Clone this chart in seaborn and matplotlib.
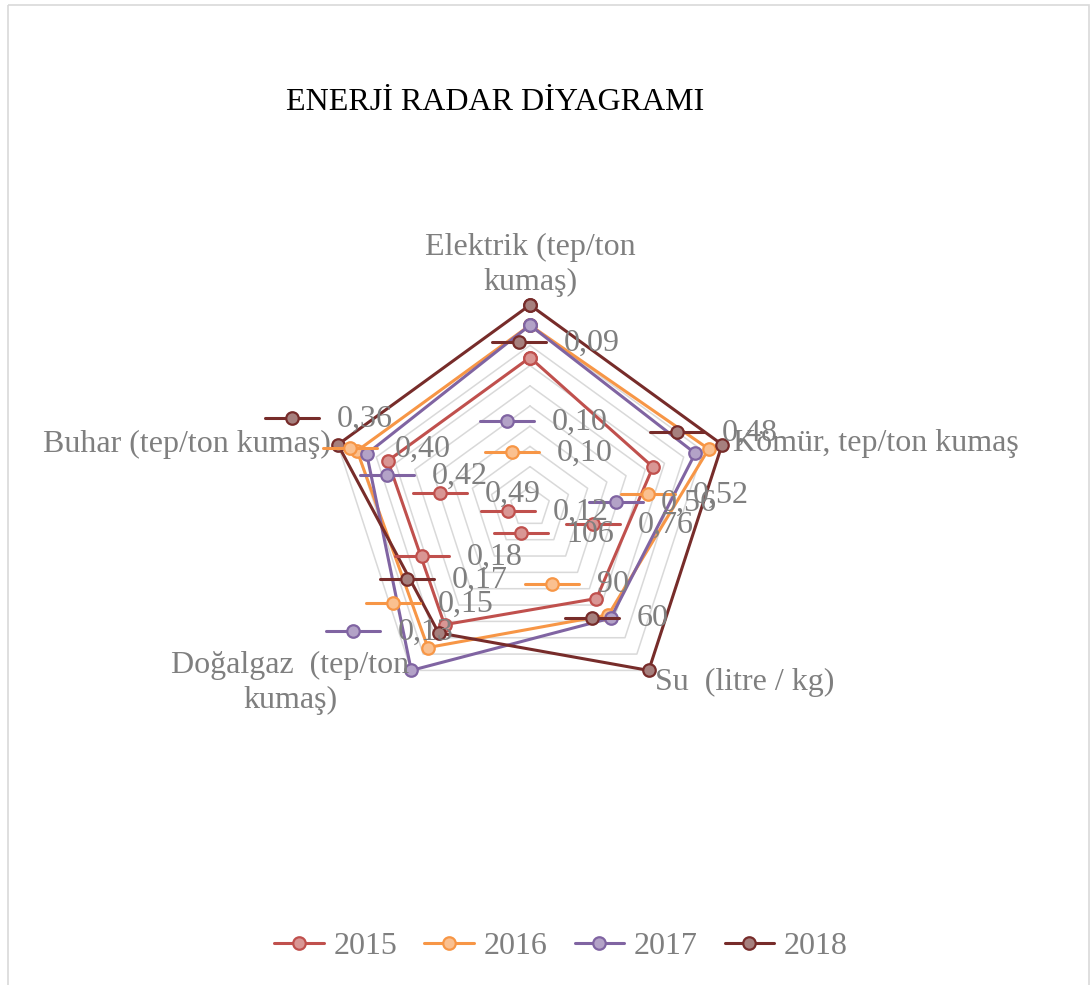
import numpy as np
import pandas as pd
import matplotlib
matplotlib.use("Agg")
import matplotlib.pyplot as plt
from matplotlib.lines import Line2D
from matplotlib.patches import Rectangle
import seaborn as sns

# categories (clockwise from top) and radar values (0-1 scale)
categories = ["Elektrik (tep/ton\nkumaş)", "Kömür, tep/ton kumaş", "Su  (litre / kg)",
              "Doğalgaz  (tep/ton\nkumaş)", "Buhar (tep/ton kumaş)"]
years = ["2015", "2016", "2017", "2018"]
v2015 = [0.74, 0.64, 0.56, 0.72, 0.74]
v2016 = [0.90, 0.93, 0.66, 0.86, 0.90]
v2017 = [0.90, 0.86, 0.68, 1.00, 0.85]
v2018 = [1.00, 1.00, 1.00, 0.77, 1.00]

# data label texts per series (same category order), None = not visible
lab2015 = ["0,12", "0,76", "106", "0,18", "0,49"]
lab2016 = ["0,10", "0,52", "90", "0,15", "0,40"]
lab2017 = ["0,10", "0,56", None, "0,13", "0,42"]
lab2018 = ["0,09", "0,48", "60", "0,17", "0,36"]

# ---- layout / styles ----
W, H = 1091, 985
CX, CY, R = 530, 507, 202
line_cols = ["#C0504D", "#F79646", "#8064A2", "#772C2A"]
face_cols = ["#D99694", "#FAC090", "#B3A2C7", "#A6807E"]
GRAY = "#7F7F7F"
FS = 23

# where Excel dropped each data label (key centre, pixels)
label_pos = [
    [(508, 511), (593, 524), (521, 533), (422, 556), (440, 493)],
    [(512, 452), (648, 494), (552, 584), (393, 603), (350, 448)],
    [(507, 421), (616, 502), None, (353, 631), (387, 475)],
    [(519, 342), (677, 432), (592, 618), (407, 579), (292, 418)],
]
cat_pos = [(530, 265, "center"), (733, 443, "left"), (655, 682, "left"),
           (290, 683, "center"), (331, 444, "right")]

sns.set_theme(style="white")
plt.rcParams["font.family"] = ["Liberation Serif", "DejaVu Serif"]

fig = plt.figure(figsize=(W / 100, H / 100), dpi=100)
ax = fig.add_axes([(CX - R) / W, (H - CY - R) / H, 2 * R / W, 2 * R / H], projection="polar")
ax.set_theta_offset(np.pi / 2)
ax.set_theta_direction(-1)
ax.grid(False)
ax.spines["polar"].set_visible(False)
ax.patch.set_alpha(0)

theta = np.linspace(0, 2 * np.pi, len(categories), endpoint=False)
theta_c = np.append(theta, 2 * np.pi)

# pentagon grid rings
for lv in np.arange(0.1, 1.01, 0.1):
    ax.plot(theta_c, [lv] * len(theta_c), color="#D9D9D9", lw=1.1, zorder=1, clip_on=False)

series = [v2015, v2016, v2017, v2018]
for i, vals in enumerate(series):
    df = pd.DataFrame({"theta": theta_c, "r": vals + vals[:1]})
    sns.lineplot(data=df, x="theta", y="r", sort=False, estimator=None, ax=ax,
                 color=line_cols[i], lw=2.2, marker="o", markersize=9,
                 markerfacecolor=face_cols[i], markeredgecolor=line_cols[i],
                 markeredgewidth=1.6, zorder=3 + i, clip_on=False)

ax.set_ylim(0, 1)
ax.set_xticks([])
ax.set_yticks([])
ax.set_xlabel("")
ax.set_ylabel("")

# overlay in pixel coordinates for labels
ov = fig.add_axes([0, 0, 1, 1])
ov.set_xlim(0, W)
ov.set_ylim(H, 0)
ov.axis("off")
ov.patch.set_alpha(0)
ov.add_patch(Rectangle((8, 5), 1081, 1000, fill=False, ec="#D9D9D9", lw=1.2))

ov.text(495, 102, "ENERJİ RADAR DİYAGRAMI", fontsize=FS, color="black",
        ha="center", va="center")

for name, (x, y, ha) in zip(categories, cat_pos):
    ov.text(x, y, name, fontsize=FS, color=GRAY, ha=ha, va="center",
            multialignment="center", linespacing=1.25)

labels = [lab2015, lab2016, lab2017, lab2018]
for i in range(len(years)):
    for txt, pos in zip(labels[i], label_pos[i]):
        if txt is None or pos is None:
            continue
        x, y = pos
        ov.plot([x - 27, x + 27], [y, y], color=line_cols[i], lw=2.2, zorder=10)
        ov.plot([x], [y], marker="o", markersize=9, color=line_cols[i],
                markerfacecolor=face_cols[i], markeredgewidth=1.6, zorder=11)
        ov.text(x + 45, y + 1, txt, fontsize=FS, color=GRAY, ha="left", va="center", zorder=12)

handles = [Line2D([0], [0], color=line_cols[i], lw=2.2, marker="o", markersize=9,
                  markerfacecolor=face_cols[i], markeredgewidth=1.6) for i in range(4)]
fig.legend(handles, years, loc="center", bbox_to_anchor=(561 / W, 1 - 946 / H), ncol=4,
           frameon=False, fontsize=FS, handlelength=1.55, handletextpad=0.3,
           columnspacing=0.85, labelcolor=GRAY)

fig.savefig("out.png", dpi=100)
